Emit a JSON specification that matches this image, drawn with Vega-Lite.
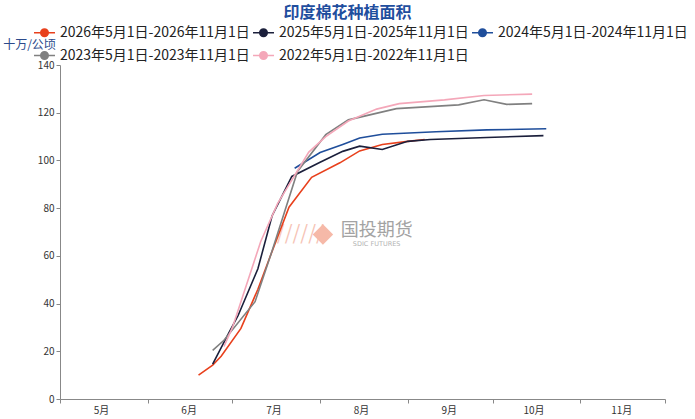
{
  "$schema": "https://vega.github.io/schema/vega-lite/v6.json",
  "description": "印度棉花种植面积, weekly cumulative sowing area by season.",
  "width": 605,
  "height": 334,
  "autosize": {"type": "none"},
  "padding": {"left": 60, "top": 65, "right": 30, "bottom": 20},
  "title": {
    "text": "印度棉花种植面积",
    "anchor": "middle",
    "dx": -15,
    "offset": 0,
    "font": "Noto Sans CJK SC",
    "fontSize": 16,
    "fontWeight": "bold",
    "color": "#1f4e9e"
  },
  "datasets": {
    "area": [
      {"series": "2026年5月1日-2026年11月1日", "date": "2026-06-19", "value": 10},
      {"series": "2026年5月1日-2026年11月1日", "date": "2026-06-24", "value": 14.2},
      {"series": "2026年5月1日-2026年11月1日", "date": "2026-06-27", "value": 17.9},
      {"series": "2026年5月1日-2026年11月1日", "date": "2026-07-04", "value": 29.6},
      {"series": "2026年5月1日-2026年11月1日", "date": "2026-07-10", "value": 46},
      {"series": "2026年5月1日-2026年11月1日", "date": "2026-07-14", "value": 58.7},
      {"series": "2026年5月1日-2026年11月1日", "date": "2026-07-21", "value": 80.4},
      {"series": "2026年5月1日-2026年11月1日", "date": "2026-07-29", "value": 92.9},
      {"series": "2026年5月1日-2026年11月1日", "date": "2026-08-08", "value": 99},
      {"series": "2026年5月1日-2026年11月1日", "date": "2026-08-15", "value": 104},
      {"series": "2026年5月1日-2026年11月1日", "date": "2026-08-23", "value": 106.7},
      {"series": "2026年5月1日-2026年11月1日", "date": "2026-09-01", "value": 108},
      {"series": "2026年5月1日-2026年11月1日", "date": "2026-09-07", "value": 108.8},

      {"series": "2025年5月1日-2025年11月1日", "date": "2026-06-24", "value": 14.6},
      {"series": "2025年5月1日-2025年11月1日", "date": "2026-06-30", "value": 28.3},
      {"series": "2025年5月1日-2025年11月1日", "date": "2026-07-03", "value": 35},
      {"series": "2025年5月1日-2025年11月1日", "date": "2026-07-10", "value": 54.6},
      {"series": "2025年5月1日-2025年11月1日", "date": "2026-07-15", "value": 76.7},
      {"series": "2025年5月1日-2025年11月1日", "date": "2026-07-22", "value": 93.3},
      {"series": "2025年5月1日-2025年11月1日", "date": "2026-08-01", "value": 99.2},
      {"series": "2025年5月1日-2025年11月1日", "date": "2026-08-09", "value": 103.8},
      {"series": "2025年5月1日-2025年11月1日", "date": "2026-08-15", "value": 106},
      {"series": "2025年5月1日-2025年11月1日", "date": "2026-08-23", "value": 104.6},
      {"series": "2025年5月1日-2025年11月1日", "date": "2026-09-01", "value": 108},
      {"series": "2025年5月1日-2025年11月1日", "date": "2026-09-09", "value": 108.8},
      {"series": "2025年5月1日-2025年11月1日", "date": "2026-09-29", "value": 109.6},
      {"series": "2025年5月1日-2025年11月1日", "date": "2026-10-19", "value": 110.4},

      {"series": "2024年5月1日-2024年11月1日", "date": "2026-07-23", "value": 96.7},
      {"series": "2024年5月1日-2024年11月1日", "date": "2026-08-01", "value": 103.3},
      {"series": "2024年5月1日-2024年11月1日", "date": "2026-08-09", "value": 106.7},
      {"series": "2024年5月1日-2024年11月1日", "date": "2026-08-15", "value": 109.4},
      {"series": "2024年5月1日-2024年11月1日", "date": "2026-08-23", "value": 111},
      {"series": "2024年5月1日-2024年11月1日", "date": "2026-09-11", "value": 112},
      {"series": "2024年5月1日-2024年11月1日", "date": "2026-09-29", "value": 112.8},
      {"series": "2024年5月1日-2024年11月1日", "date": "2026-10-20", "value": 113.3},

      {"series": "2023年5月1日-2023年11月1日", "date": "2026-06-24", "value": 20.4},
      {"series": "2023年5月1日-2023年11月1日", "date": "2026-06-28", "value": 24.6},
      {"series": "2023年5月1日-2023年11月1日", "date": "2026-07-09", "value": 40.8},
      {"series": "2023年5月1日-2023年11月1日", "date": "2026-07-15", "value": 62},
      {"series": "2023年5月1日-2023年11月1日", "date": "2026-07-24", "value": 95.4},
      {"series": "2023年5月1日-2023年11月1日", "date": "2026-08-03", "value": 110.8},
      {"series": "2023年5月1日-2023年11月1日", "date": "2026-08-11", "value": 117},
      {"series": "2023年5月1日-2023年11月1日", "date": "2026-08-28", "value": 121.7},
      {"series": "2023年5月1日-2023年11月1日", "date": "2026-09-19", "value": 123.3},
      {"series": "2023年5月1日-2023年11月1日", "date": "2026-09-28", "value": 125.4},
      {"series": "2023年5月1日-2023年11月1日", "date": "2026-10-06", "value": 123.5},
      {"series": "2023年5月1日-2023年11月1日", "date": "2026-10-15", "value": 123.8},

      {"series": "2022年5月1日-2022年11月1日", "date": "2026-06-28", "value": 22},
      {"series": "2022年5月1日-2022年11月1日", "date": "2026-07-01", "value": 30},
      {"series": "2022年5月1日-2022年11月1日", "date": "2026-07-11", "value": 66},
      {"series": "2022年5月1日-2022年11月1日", "date": "2026-07-17", "value": 82},
      {"series": "2022年5月1日-2022年11月1日", "date": "2026-07-28", "value": 103.5},
      {"series": "2022年5月1日-2022年11月1日", "date": "2026-08-03", "value": 110},
      {"series": "2022年5月1日-2022年11月1日", "date": "2026-08-11", "value": 116.5},
      {"series": "2022年5月1日-2022年11月1日", "date": "2026-08-21", "value": 121.5},
      {"series": "2022年5月1日-2022年11月1日", "date": "2026-08-29", "value": 123.8},
      {"series": "2022年5月1日-2022年11月1日", "date": "2026-09-14", "value": 125.4},
      {"series": "2022年5月1日-2022年11月1日", "date": "2026-09-28", "value": 127.2},
      {"series": "2022年5月1日-2022年11月1日", "date": "2026-10-15", "value": 127.8}
    ],
    "mark": [{"name": "国投期货", "sub": "SDIC FUTURES", "hatch": "//////"}]
  },
  "layer": [
    {
      "data": {"name": "mark"},
      "mark": {"type": "text", "font": "Noto Sans CJK SC", "fontSize": 20, "color": "#f6c3b5"},
      "encoding": {
        "x": {"datum": {"year": 2026, "month": 7, "date": 25}, "type": "temporal"},
        "y": {"datum": 69, "type": "quantitative"},
        "text": {"field": "hatch"}
      }
    },
    {
      "data": {"name": "mark"},
      "mark": {"type": "point", "shape": "diamond", "filled": true, "size": 420, "color": "#f6b9a8", "opacity": 1},
      "encoding": {
        "x": {"datum": {"year": 2026, "month": 8, "date": 2}, "type": "temporal"},
        "y": {"datum": 69, "type": "quantitative"}
      }
    },
    {
      "data": {"name": "mark"},
      "mark": {"type": "text", "font": "Noto Sans CJK SC", "fontSize": 18, "color": "#a3a3a3"},
      "encoding": {
        "x": {"datum": {"year": 2026, "month": 8, "date": 21}, "type": "temporal"},
        "y": {"datum": 70.5, "type": "quantitative"},
        "text": {"field": "name"}
      }
    },
    {
      "data": {"name": "mark"},
      "mark": {"type": "text", "font": "DejaVu Sans", "fontSize": 6.5, "color": "#b3b3b3", "letterSpacing": 1.5},
      "encoding": {
        "x": {"datum": {"year": 2026, "month": 8, "date": 21}, "type": "temporal"},
        "y": {"datum": 64.8, "type": "quantitative"},
        "text": {"field": "sub"}
      }
    },
    {
      "data": {"name": "area", "format": {"parse": {"date": "date:'%Y-%m-%d'"}}},
      "mark": {"type": "line", "strokeWidth": 1.6, "interpolate": "linear"},
      "encoding": {
        "x": {
          "field": "date",
          "type": "temporal",
          "scale": {
            "domain": [
              {"year": 2026, "month": 5, "date": 1},
              {"year": 2026, "month": 12, "date": 1}
            ]
          },
          "axis": {
            "title": null,
            "grid": false,
            "values": [
              {"year": 2026, "month": 5, "date": 1},
              {"year": 2026, "month": 6, "date": 1},
              {"year": 2026, "month": 7, "date": 1},
              {"year": 2026, "month": 8, "date": 1},
              {"year": 2026, "month": 9, "date": 1},
              {"year": 2026, "month": 10, "date": 1},
              {"year": 2026, "month": 11, "date": 1},
              {"year": 2026, "month": 12, "date": 1}
            ],
            "labelExpr": "month(datum.value) == 11 ? '' : (month(datum.value) + 1) + '月'",
            "labelOffset": 41,
            "labelPadding": 2,
            "labelFont": "Noto Sans CJK SC",
            "labelFontSize": 10,
            "labelColor": "#333333",
            "tickSize": 4,
            "tickColor": "#888888",
            "domainColor": "#888888",
            "labelFlush": false,
            "labelOverlap": false
          }
        },
        "y": {
          "field": "value",
          "type": "quantitative",
          "scale": {"domain": [0, 140]},
          "axis": {
            "values": [0, 20, 40, 60, 80, 100, 120, 140],
            "grid": false,
            "title": "十万/公顷",
            "titleAngle": 0,
            "titleAlign": "center",
            "titleBaseline": "middle",
            "titleX": -31,
            "titleY": -21,
            "titleFont": "Noto Sans CJK SC",
            "titleFontSize": 12,
            "titleFontWeight": "normal",
            "titleColor": "#2b4a8b",
            "labelFont": "Noto Sans CJK SC",
            "labelFontSize": 10,
            "labelColor": "#333333",
            "tickSize": 4,
            "tickColor": "#888888",
            "domainColor": "#888888"
          }
        },
        "color": {
          "field": "series",
          "type": "nominal",
          "scale": {
            "domain": [
              "2026年5月1日-2026年11月1日",
              "2025年5月1日-2025年11月1日",
              "2024年5月1日-2024年11月1日",
              "2023年5月1日-2023年11月1日",
              "2022年5月1日-2022年11月1日"
            ],
            "range": ["#e8401c", "#1b1f3b", "#1f4e9b", "#808080", "#f4a7b9"]
          },
          "legend": {
            "title": null,
            "orient": "none",
            "legendX": -27,
            "legendY": -44,
            "direction": "horizontal",
            "columns": 3,
            "columnPadding": 0,
            "rowPadding": 4,
            "padding": 0,
            "symbolType": "M-1,0H1M-0.36,0A0.36,0.36 0 1,0 0.36,0A0.36,0.36 0 1,0 -0.36,0Z",
            "symbolSize": 440,
            "symbolStrokeWidth": 1.5,
            "labelOffset": 4,
            "labelLimit": 400,
            "labelFont": "Noto Sans CJK SC",
            "labelFontSize": 14,
            "labelColor": "#222222",
            "encode": {
              "symbols": {
                "update": {
                  "fill": {"signal": "scale('color', datum.value)"},
                  "stroke": {"signal": "scale('color', datum.value)"}
                }
              }
            }
          }
        }
      }
    }
  ],
  "config": {
    "view": {"stroke": null},
    "font": "Noto Sans CJK SC"
  }
}
